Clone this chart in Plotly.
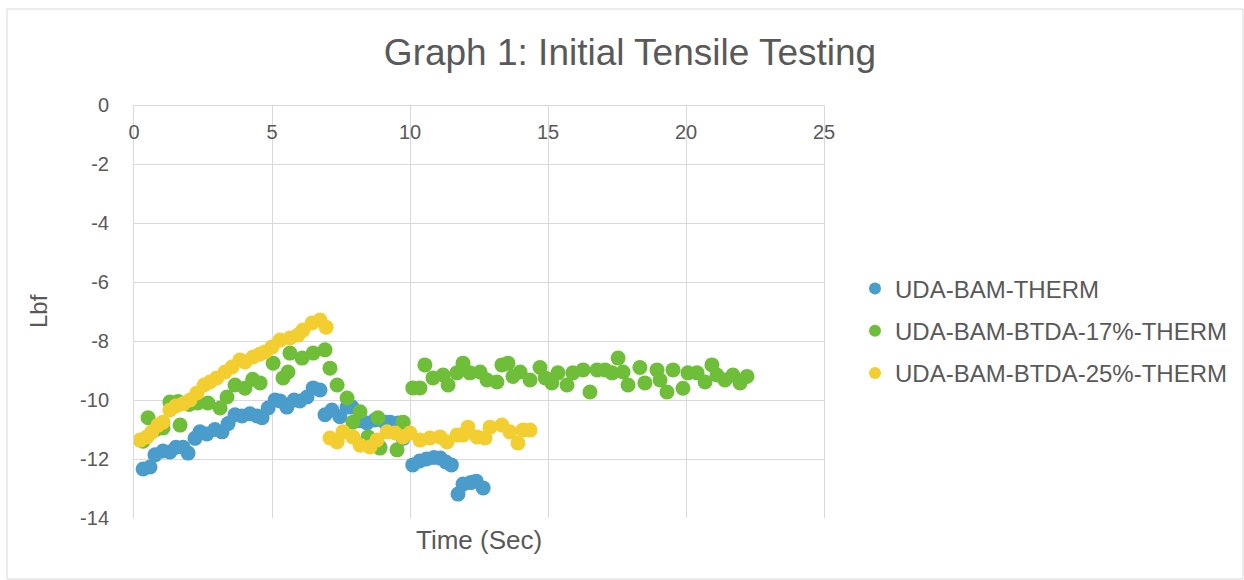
import plotly.graph_objects as go

# UDA-BAM-THERM
blue_x = [0.33, 0.58, 0.76, 1.05, 1.30, 1.52, 1.78, 1.96, 2.21, 2.39, 2.64, 2.93, 3.19, 3.41, 3.66, 3.91,
          4.20, 4.46, 4.64, 4.86, 5.11, 5.29, 5.54, 5.80, 6.01, 6.27, 6.49, 6.74, 6.92, 7.17, 7.46, 7.72,
          7.90, 8.19, 8.44, 8.73, 8.91, 9.09, 9.28, 9.57, 9.75,
          10.10, 10.35, 10.60, 10.87, 11.10, 11.30, 11.50, 11.74, 11.92, 12.20, 12.40, 12.65]
blue_y = [-12.34, -12.27, -11.86, -11.73, -11.76, -11.60, -11.60, -11.80, -11.30, -11.08, -11.15, -11.00,
          -11.08, -10.80, -10.50, -10.54, -10.47, -10.54, -10.60, -10.27, -10.00, -10.03, -10.24, -10.00,
          -10.03, -9.90, -9.59, -9.66, -10.50, -10.34, -10.57, -10.24, -10.24, -10.70, -10.78, -10.68,
          -11.60, -10.75, -10.75, -10.78, -11.30,
          -12.20, -12.07, -12.00, -11.95, -11.97, -12.10, -12.20, -13.19, -12.85, -12.80, -12.75, -12.98]

# UDA-BAM-BTDA-17%-THERM
green_x = [0.33, 0.51, 0.80, 1.05, 1.30, 1.60, 1.67, 2.00, 2.30, 2.68, 3.12, 3.37, 3.66, 4.02, 4.30, 4.57,
           5.04, 5.40, 5.58, 5.65, 6.09, 6.49, 6.92, 7.10, 7.36, 7.72, 7.93, 8.19, 8.48, 8.84, 8.91, 9.53,
           9.75, 10.10, 10.36, 10.54, 10.83, 11.20, 11.38, 11.70, 11.92, 12.17, 12.54, 12.79, 13.15, 13.33,
           13.55, 13.73, 13.99, 14.35, 14.71, 14.90, 15.14, 15.36, 15.69, 15.90, 16.27, 16.52, 16.78, 17.07,
           17.32, 17.54, 17.72, 17.90, 18.33, 18.51, 18.95, 19.06, 19.31, 19.53, 19.89, 20.07, 20.40, 20.69,
           20.94, 21.12, 21.41, 21.70, 21.96, 22.21]
green_y = [-11.40, -10.60, -11.00, -10.95, -10.07, -10.05, -10.85, -10.15, -10.10, -10.10, -10.27, -9.90,
           -9.49, -9.60, -9.30, -9.42, -8.75, -9.25, -9.05, -8.41, -8.58, -8.41, -8.30, -8.92, -9.49, -9.93,
           -10.75, -10.40, -11.25, -10.60, -11.63, -11.69, -10.75, -9.59, -9.59, -8.81, -9.25, -9.15, -9.49,
           -9.08, -8.75, -9.08, -9.05, -9.32, -9.39, -8.81, -8.75, -9.20, -9.05, -9.32, -8.90, -9.25, -9.42,
           -9.08, -9.49, -9.08, -8.98, -9.73, -8.98, -8.98, -9.08, -8.58, -9.05, -9.49, -8.90, -9.42, -8.98,
           -9.32, -9.73, -8.98, -9.60, -9.08, -9.08, -9.39, -8.81, -9.15, -9.32, -9.15, -9.42, -9.20]

# UDA-BAM-BTDA-25%-THERM
yellow_x = [0.22, 0.47, 0.65, 0.87, 1.05, 1.30, 1.52, 1.78, 2.03, 2.28, 2.54, 2.75, 3.00, 3.30, 3.55, 3.84,
            4.02, 4.31, 4.55, 4.75, 5.00, 5.29, 5.65, 5.94, 6.12, 6.45, 6.74, 6.96,
            7.10, 7.36, 7.57, 7.93, 8.19, 8.55, 8.80, 9.17, 9.46, 9.75, 10.00, 10.36, 10.72, 11.09, 11.34,
            11.70, 11.92, 12.10, 12.43, 12.72, 12.90, 13.33, 13.62, 13.91, 14.09, 14.35]
yellow_y = [-11.36, -11.25, -11.08, -10.85, -10.75, -10.34, -10.20, -10.13, -10.00, -9.76, -9.49, -9.39,
            -9.25, -9.05, -8.88, -8.64, -8.71, -8.54, -8.45, -8.37, -8.20, -7.97, -7.90, -7.80, -7.63, -7.39,
            -7.29, -7.53,
            -11.29, -11.42, -11.08, -11.25, -11.53, -11.59, -11.36, -11.08, -11.12, -11.25, -11.12, -11.36,
            -11.29, -11.25, -11.42, -11.19, -11.19, -10.92, -11.25, -11.29, -10.92, -10.85, -11.08, -11.46,
            -11.02, -11.02]

series_names = ["UDA-BAM-THERM", "UDA-BAM-BTDA-17%-THERM", "UDA-BAM-BTDA-25%-THERM"]
colors = ["#4a9dcb", "#6fbe3a", "#f2ce30"]

x_ticks = [0, 5, 10, 15, 20, 25]
x_labels = ["0", "5", "10", "15", "20", "25"]
y_ticks = [0, -2, -4, -6, -8, -10, -12, -14]
y_labels = ["0", "-2", "-4", "-6", "-8", "-10", "-12", "-14"]

W, H = 1244, 580
L, R, T, B = 134, 824, 105, 518

fig = go.Figure()
for i, (xs, ys, name, c) in enumerate(zip([blue_x, green_x, yellow_x], [blue_y, green_y, yellow_y],
                                          series_names, colors)):
    fig.add_trace(go.Scatter(x=xs, y=ys, mode="markers", name=name, legendgroup=f"g{i}",
                             marker=dict(size=15, color=c, line=dict(width=0))))

font_family = "Liberation Sans, Arial, sans-serif"
txt = "#595959"
grid = "#d9d9d9"

fig.update_layout(
    width=W, height=H,
    margin=dict(l=L, r=W - R, t=T, b=H - B, pad=0, autoexpand=False),
    paper_bgcolor="white", plot_bgcolor="white",
    font=dict(family=font_family, color=txt),
    title=dict(text="Graph 1: Initial Tensile Testing", font=dict(size=37, color=txt),
               x=630 / W, xref="container", xanchor="center",
               y=1 - 52 / H, yref="container", yanchor="middle"),
    xaxis=dict(range=[0, 25], tickvals=x_ticks, ticktext=x_labels, side="bottom",
               anchor="free", position=1,
               showgrid=True, gridcolor=grid, gridwidth=1, zeroline=False,
               showline=True, linecolor=grid, mirror=True, ticks="",
               ticklabelstandoff=9,
               tickfont=dict(size=20, color=txt)),
    yaxis=dict(range=[-14, 0], tickvals=y_ticks, ticktext=y_labels, domain=[0, 1],
               showgrid=True, gridcolor=grid, gridwidth=1,
               zeroline=False, showline=True, linecolor=grid, mirror=True, ticks="",
               ticklabelstandoff=20,
               tickfont=dict(size=20, color=txt)),
    legend=dict(x=(855 - L) / (R - L), xanchor="left", y=(B - 331) / (B - T), yanchor="middle",
                font=dict(size=24, color=txt), itemsizing="constant", tracegroupgap=8,
                bgcolor="rgba(0,0,0,0)"),
    showlegend=True,
)

fig.add_annotation(text="Time (Sec)", x=(479 - L) / (R - L), y=(B - 540) / (B - T),
                   xref="paper", yref="paper", showarrow=False,
                   font=dict(size=26, color=txt), xanchor="center", yanchor="middle")
fig.add_annotation(text="Lbf", x=(38 - L) / (R - L), y=(B - 311) / (B - T),
                   xref="paper", yref="paper", showarrow=False, textangle=-90,
                   font=dict(size=24, color=txt), xanchor="center", yanchor="middle")

# outer chart border
fig.add_shape(type="rect", xref="paper", yref="paper",
              x0=(7 - L) / (R - L), x1=(1243 - L) / (R - L),
              y0=(B - 579) / (B - T), y1=(B - 9) / (B - T),
              line=dict(color=grid, width=1), fillcolor="rgba(0,0,0,0)", layer="below")

fig.write_html("out.html")
